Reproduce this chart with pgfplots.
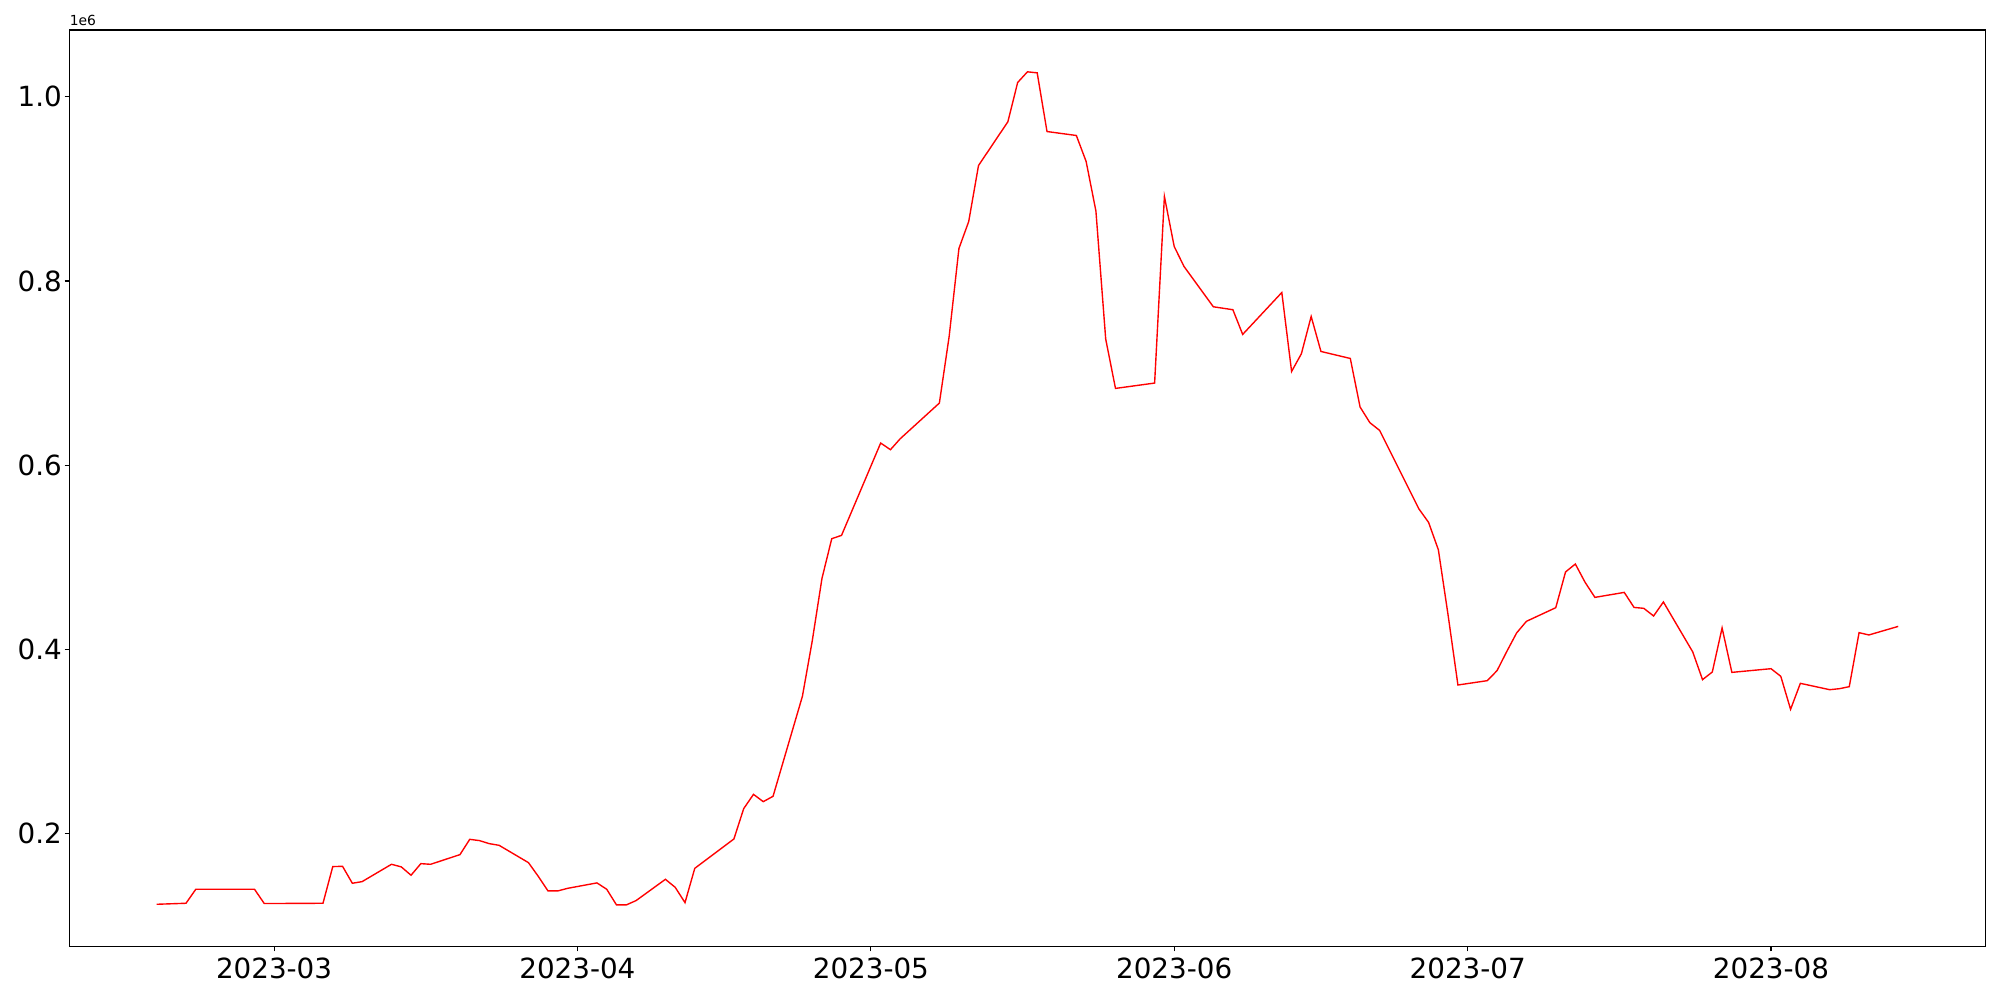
\documentclass[border=0pt]{standalone}
\usepackage{fontspec}
\setmainfont{DejaVu Sans}
\usepackage{pgfplots}
\pgfplotsset{compat=1.18}
\begin{document}
\begin{tikzpicture}
\path[use as bounding box] (-50.1pt,-38.6pt) rectangle (1389.9pt,681.4pt);
\begin{axis}[
  name=ax,
  at={(0,0)}, anchor=south west,
  scale only axis,
  width=1379.3pt, height=659.8pt,
  xmin=-20.9, xmax=174.9,
  ymin=0.0778, ymax=1.0724,
  xtick={0,31,61,92,122,153},
  xticklabels={2023-03,2023-04,2023-05,2023-06,2023-07,2023-08},
  ytick={0.2,0.4,0.6,0.8,1.0},
  y tick label style={/pgf/number format/fixed, /pgf/number format/fixed zerofill, /pgf/number format/precision=1},
  /pgf/number format/assume math mode=true,
  tick label style={font=\fontsize{20}{24}\selectfont},
  tick align=outside,
  major tick length=3.5pt,
  xtick pos=bottom, ytick pos=left,
  axis line style={line width=0.8pt},
  every tick/.style={line width=0.8pt, black},
  xticklabel style={yshift=-1pt},
  yticklabel style={xshift=1.5pt},
]
\addplot[red, line width=1pt] coordinates {
(-12,0.1235) (-9,0.1246) (-8,0.1398) (-2,0.1398) (-1,0.1243) (5,0.1246)
(6,0.1644) (7,0.1647) (8,0.1463) (9,0.1481) (12,0.1669) (13,0.1641)
(14,0.1550) (15,0.1676) (16,0.1669) (19,0.1774) (20,0.1940) (21,0.1926)
(22,0.1893) (23,0.1875) (26,0.1687) (27,0.1539) (28,0.1380) (29,0.1380)
(30,0.1408) (33,0.1467) (34,0.1398) (35,0.1228) (36,0.1228) (37,0.1275)
(40,0.1506) (41,0.1419) (42,0.1253) (43,0.1625) (47,0.1944) (48,0.2273)
(49,0.2428) (50,0.2349) (51,0.2407) (54,0.3492) (55,0.4089) (56,0.4772)
(57,0.5203) (58,0.5239) (62,0.6241) (63,0.6169) (64,0.6288) (68,0.6675)
(69,0.7398) (70,0.8353) (71,0.8646) (72,0.9253) (75,0.9728) (76,1.0154)
(77,1.0270) (78,1.0259) (79,0.9622) (82,0.9579) (83,0.9297) (84,0.8759)
(85,0.7370) (86,0.6834) (90,0.6892) (91,0.8917) (92,0.8375) (93,0.8158)
(96,0.7720) (98,0.7688) (99,0.7420) (103,0.7875) (104,0.7018) (105,0.7210)
(106,0.7615) (107,0.7235) (110,0.7159) (111,0.6632) (112,0.6462) (113,0.6378)
(117,0.5528) (118,0.5380) (119,0.5083) (120,0.437) (121,0.3615) (124,0.3662)
(125,0.3771) (126,0.398) (127,0.418) (128,0.4306) (131,0.4454) (132,0.4842)
(133,0.4928) (134,0.4729) (135,0.4566) (138,0.4620) (139,0.4457) (140,0.4447)
(141,0.4364) (142,0.4516) (145,0.3974) (146,0.3673) (147,0.3756) (148,0.4234)
(149,0.3752) (153,0.3792) (154,0.3709) (155,0.3351) (156,0.3633) (159,0.3564)
(160,0.3575) (161,0.3597) (162,0.4183) (163,0.4158) (166,0.4251)
};
\end{axis}
\node[anchor=south west, inner sep=0pt, font=\fontsize{10}{12}\selectfont, yshift=3pt] at (ax.north west) {1e6};
\end{tikzpicture}
\end{document}
